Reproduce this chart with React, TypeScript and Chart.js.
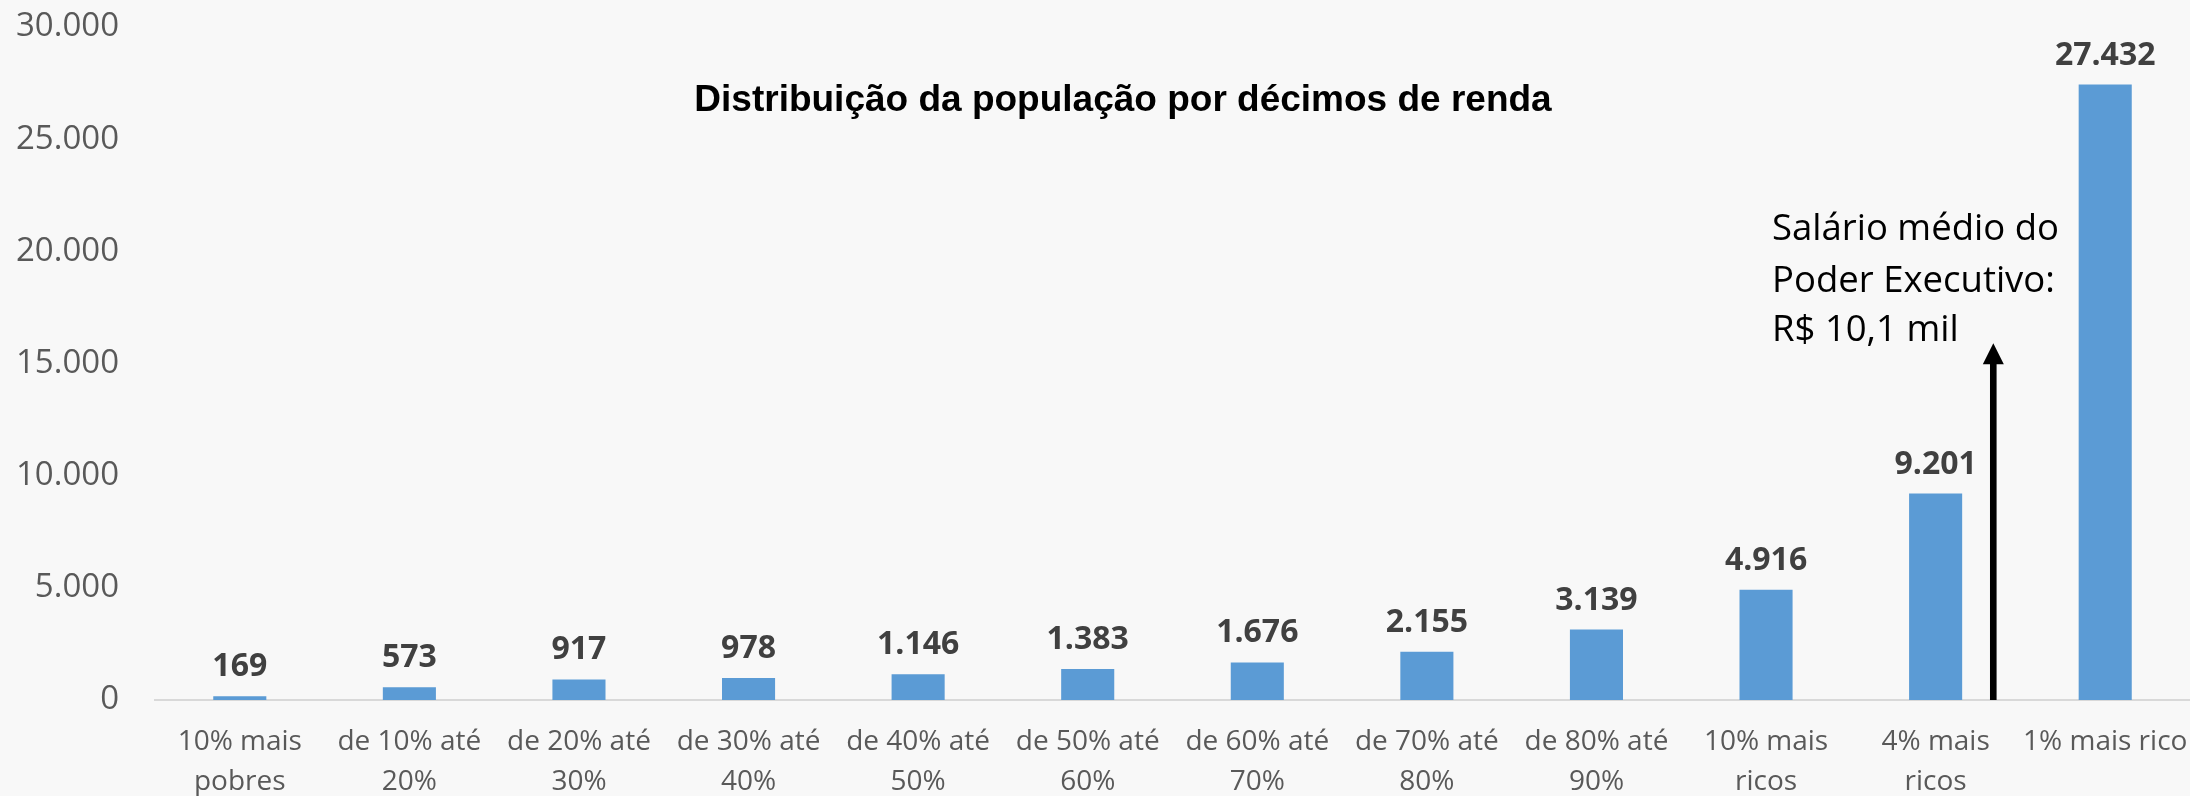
import React, { useEffect, useRef } from "react";
import { Chart, registerables } from "chart.js";

Chart.register(...registerables);

const categories: string[][] = [
  ["10% mais", "pobres"],
  ["de 10% até", "20%"],
  ["de 20% até", "30%"],
  ["de 30% até", "40%"],
  ["de 40% até", "50%"],
  ["de 50% até", "60%"],
  ["de 60% até", "70%"],
  ["de 70% até", "80%"],
  ["de 80% até", "90%"],
  ["10% mais", "ricos"],
  ["4% mais", "ricos"],
  ["1% mais rico"],
];
const values: number[] = [169, 573, 917, 978, 1146, 1383, 1676, 2155, 3139, 4916, 9201, 27432];
const yMax = 30000;
const yStep = 5000;
const titleText = "Distribuição da população por décimos de renda";
const noteLines: string[] = ["Salário médio do", "Poder Executivo:", "R$ 10,1 mil"];
const arrowCategoryPos = 10.34;
const arrowTopValue = 15900;

const fmt = (n: number) => String(Math.round(n)).replace(/\B(?=(\d{3})+(?!\d))/g, ".");

const decorPlugin = {
  id: "decor",
  beforeDraw(chart: any) {
    const { ctx, width, height } = chart;
    ctx.save();
    ctx.fillStyle = "#f8f8f8";
    ctx.fillRect(0, 0, width, height);
    ctx.restore();
  },
  afterDatasetsDraw(chart: any) {
    const { ctx } = chart;
    const meta = chart.getDatasetMeta(0);
    ctx.save();
    ctx.font = "bold 32px 'Open Sans'";
    ctx.fillStyle = "#404040";
    ctx.textAlign = "center";
    ctx.textBaseline = "alphabetic";
    meta.data.forEach((bar: any, i: number) => {
      ctx.fillText(fmt(values[i]), bar.x, bar.y - 20);
    });
    ctx.restore();
  },
  afterDraw(chart: any) {
    const { ctx } = chart;
    const xs = chart.scales.x;
    const ys = chart.scales.y;
    ctx.save();
    ctx.font = "bold 37px 'Liberation Sans'";
    ctx.fillStyle = "#000000";
    ctx.textAlign = "center";
    ctx.textBaseline = "alphabetic";
    ctx.fillText(titleText, 1123, 111);
    ctx.font = "36.5px 'Open Sans'";
    ctx.textAlign = "left";
    const baselines = [240, 292, 341];
    noteLines.forEach((l, i) => ctx.fillText(l, 1772, baselines[i]));
    const i0 = Math.floor(arrowCategoryPos);
    const p0 = xs.getPixelForValue(i0);
    const p1 = xs.getPixelForValue(i0 + 1);
    const ax = p0 + (arrowCategoryPos - i0) * (p1 - p0);
    const yb = ys.getPixelForValue(0);
    const yt = ys.getPixelForValue(arrowTopValue);
    const headH = 21;
    const headW = 21;
    ctx.fillRect(ax - 3.3, yt + headH - 1, 6.6, yb - yt - headH + 1);
    ctx.beginPath();
    ctx.moveTo(ax, yt);
    ctx.lineTo(ax + headW / 2, yt + headH);
    ctx.lineTo(ax - headW / 2, yt + headH);
    ctx.closePath();
    ctx.fill();
    ctx.restore();
  },
};

export default function App() {
  const ref = useRef<HTMLCanvasElement | null>(null);
  useEffect(() => {
    document.body.style.margin = "0";
    document.body.style.overflow = "hidden";
    const canvas = ref.current!;
    const chart = new Chart(canvas, {
      type: "bar",
      data: {
        labels: categories,
        datasets: [
          {
            data: values,
            backgroundColor: "#5b9bd5",
            borderWidth: 0,
            barPercentage: 0.313,
            categoryPercentage: 1,
          },
        ],
      },
      options: {
        animation: false,
        responsive: false,
        maintainAspectRatio: false,
        devicePixelRatio: 1,
        layout: { padding: { top: 27, left: 0, right: 0, bottom: 0 } },
        plugins: {
          legend: { display: false },
          title: { display: false },
          tooltip: { enabled: false },
        },
        scales: {
          x: {
            grid: { display: false, drawTicks: false },
            border: { display: true, color: "#d9d9d9", width: 2 },
            ticks: {
              font: { family: "'Open Sans'", size: 28, lineHeight: 1.43 },
              color: "#595959",
              padding: 22,
              maxRotation: 0,
              minRotation: 0,
              autoSkip: false,
            },
            afterFit: (s: any) => {
              s.height = 96;
              s.paddingLeft = 0;
              s.paddingRight = 0;
              s.paddingTop = 0;
              s.paddingBottom = 0;
            },
          },
          y: {
            min: 0,
            max: yMax,
            grid: { display: false, drawTicks: false },
            border: { display: false },
            ticks: {
              stepSize: yStep,
              font: { family: "'Open Sans'", size: 33 },
              color: "#595959",
              padding: 36,
              callback: (v: any) => fmt(Number(v)),
            },
            afterFit: (s: any) => {
              s.width = 155;
              s.paddingLeft = 0;
              s.paddingRight = 0;
              s.paddingTop = 0;
              s.paddingBottom = 0;
            },
          },
        },
      },
      plugins: [decorPlugin],
    });
    return () => chart.destroy();
  }, []);
  return (
    <div style={{ width: 2190, height: 796, position: "relative" }}>
      <canvas ref={ref} width={2190} height={796} style={{ display: "block", width: 2190, height: 796 }} />
    </div>
  );
}
